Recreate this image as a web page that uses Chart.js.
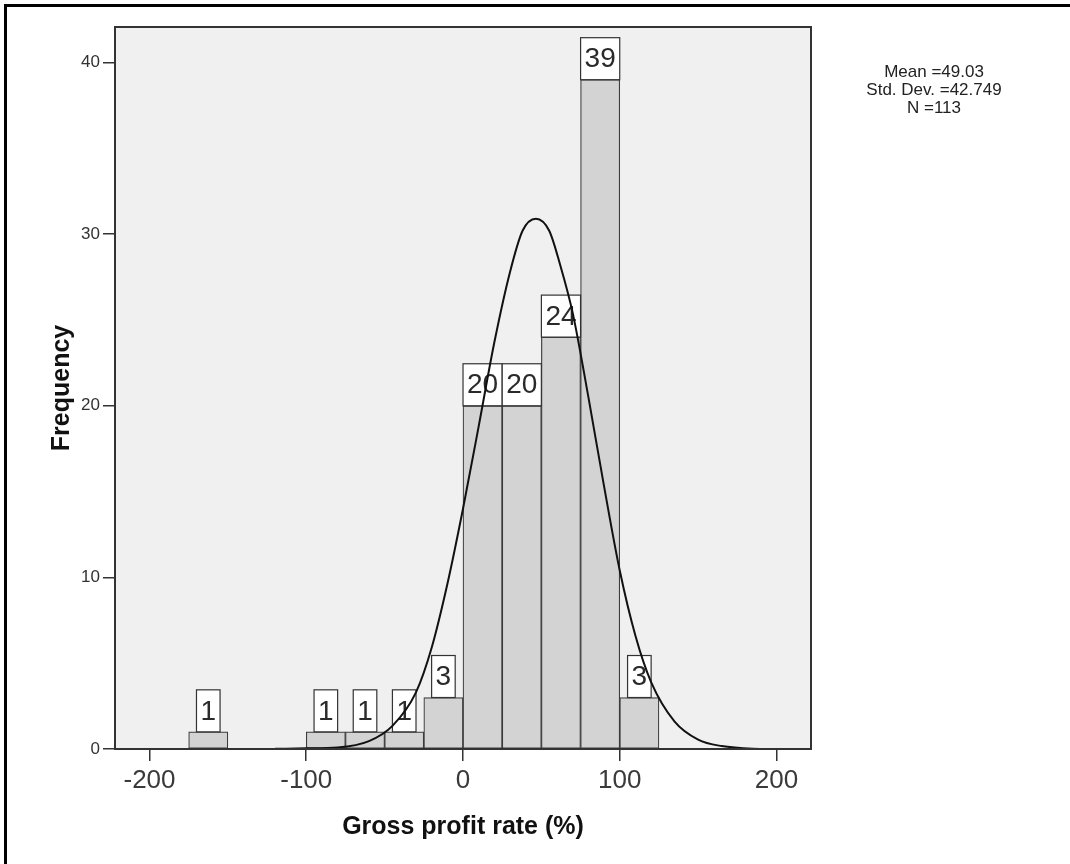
<!DOCTYPE html>
<html>
<head>
<meta charset="utf-8">
<script src="https://cdn.jsdelivr.net/npm/chart.js@4.4.1/dist/chart.umd.min.js"></script>
<style>
  body { margin: 0; background: #fff; }
  #wrap { width: 1070px; height: 864px; position: relative; }
</style>
</head>
<body>
<div id="wrap"><canvas id="histChart"></canvas></div>
<script>
// bins: lower edge of each 25-wide bin and its frequency
const binStarts = [-175, -150, -125, -100, -75, -50, -25, 0, 25, 50, 75, 100];
const binCounts = [1, 0, 0, 1, 1, 1, 3, 20, 20, 24, 39, 3];
const binWidth = 25;

// normal curve
const curveX = [-120, -100, -80, -60, -45, -30, -20, -10, 0, 10, 20, 30, 38, 46.5, 55, 62, 70, 80, 90, 100, 110, 120, 135, 150, 165, 185, 200];
const curveY = [0.01, 0.04, 0.09, 0.46, 1.35, 3.3, 5.9, 9.6, 14.0, 18.8, 23.7, 27.8, 30.2, 30.9, 30.2, 28.2, 25.4, 20.5, 15.3, 10.4, 6.6, 3.9, 1.6, 0.55, 0.17, 0.02, 0.005];

const xTicks = [-200, -100, 0, 100, 200];
const yTicks = [0, 10, 20, 30, 40];
const statLines = ['Mean =49.03', 'Std. Dev. =42.749', 'N =113'];

const FONT = '"Liberation Sans", Arial, sans-serif';

const histPlugin = {
    id: 'histPlugin',
    beforeDraw(chart) {
        const { ctx, chartArea: a } = chart;
        ctx.save();
        ctx.fillStyle = '#f0f0f0';
        ctx.fillRect(a.left, a.top, a.right - a.left, a.bottom - a.top);
        ctx.restore();
    },
    afterDatasetDraw(chart, args) {
        if (args.index !== 0) return;
        const ctx = chart.ctx;
        ctx.save();
        ctx.font = '28px ' + FONT;
        args.meta.data.forEach((bar, i) => {
            const v = binCounts[i];
            if (!v) return;
            const txt = String(v);
            const w = ctx.measureText(txt).width + 8;
            const h = 42;
            const x = bar.x - w / 2;
            const y = bar.y - h;
            ctx.fillStyle = '#fff';
            ctx.fillRect(x, y, w, h);
            ctx.strokeStyle = '#333';
            ctx.lineWidth = 1.2;
            ctx.strokeRect(x, y, w, h);
            ctx.fillStyle = '#2a2a2a';
            ctx.textAlign = 'center';
            ctx.textBaseline = 'middle';
            ctx.fillText(txt, bar.x, y + h / 2 + 1);
        });
        ctx.restore();
    },
    afterDraw(chart) {
        const { ctx, chartArea: a } = chart;
        ctx.save();
        // plot frame
        ctx.strokeStyle = '#333';
        ctx.lineWidth = 2;
        ctx.strokeRect(a.left, a.top, a.right - a.left, a.bottom - a.top);
        // summary text
        ctx.fillStyle = '#222';
        ctx.font = '17px ' + FONT;
        ctx.textAlign = 'center';
        ctx.textBaseline = 'middle';
        statLines.forEach((s, i) => ctx.fillText(s, 934, 72 + i * 18.3));
        // outer border (left and top)
        ctx.fillStyle = '#000';
        ctx.fillRect(4, 4, 3, chart.height - 4);
        ctx.fillRect(4, 4, chart.width - 4, 3);
        ctx.restore();
    }
};

const ctx = document.getElementById('histChart');

new Chart(ctx, {
    type: 'bar',
    data: {
        datasets: [{
            type: 'bar',
            data: binStarts.map((s, i) => ({ x: s + binWidth / 2, y: binCounts[i] || null })),
            backgroundColor: '#d3d3d3',
            borderColor: '#3c3c3c',
            borderWidth: 1.2,
            borderSkipped: false,
            barPercentage: 1,
            categoryPercentage: 1,
            order: 1
        }, {
            type: 'line',
            data: curveX.map((x, i) => ({ x, y: curveY[i] })),
            borderColor: '#111',
            borderWidth: 2,
            pointRadius: 0,
            fill: false,
            cubicInterpolationMode: 'monotone',
            order: 0
        }]
    },
    options: {
        responsive: true,
        maintainAspectRatio: false,
        animation: false,
        layout: { padding: { left: 0, top: 27, right: 259, bottom: 0 } },
        plugins: {
            legend: { display: false },
            tooltip: { enabled: false }
        },
        scales: {
            x: {
                type: 'linear',
                min: -222,
                max: 222,
                offset: false,
                border: { display: false },
                grid: { offset: false, drawOnChartArea: false, drawTicks: true, tickLength: 12, color: '#333', lineWidth: 1.5 },
                ticks: { color: '#3a3a3a', font: { family: FONT, size: 26 }, padding: 4, maxRotation: 0 },
                afterBuildTicks: (axis) => { axis.ticks = xTicks.map(v => ({ value: v })); },
                afterFit: (axis) => { axis.height = 115; },
                title: {
                    display: true,
                    text: 'Gross profit rate (%)',
                    color: '#111',
                    font: { family: FONT, size: 25, weight: 'bold' },
                    padding: { top: 0, bottom: 22 }
                }
            },
            y: {
                min: 0,
                max: 42.07,
                border: { display: false },
                grid: { drawOnChartArea: false, drawTicks: true, tickLength: 12, color: '#333', lineWidth: 1.5 },
                ticks: { color: '#333', font: { family: FONT, size: 17 }, padding: 3 },
                afterBuildTicks: (axis) => { axis.ticks = yTicks.map(v => ({ value: v })); },
                afterFit: (axis) => { axis.width = 115; },
                title: {
                    display: true,
                    text: 'Frequency',
                    color: '#111',
                    font: { family: FONT, size: 25, weight: 'bold' },
                    padding: { top: 47, bottom: 0 }
                }
            }
        }
    },
    plugins: [histPlugin]
});
</script>
</body>
</html>
